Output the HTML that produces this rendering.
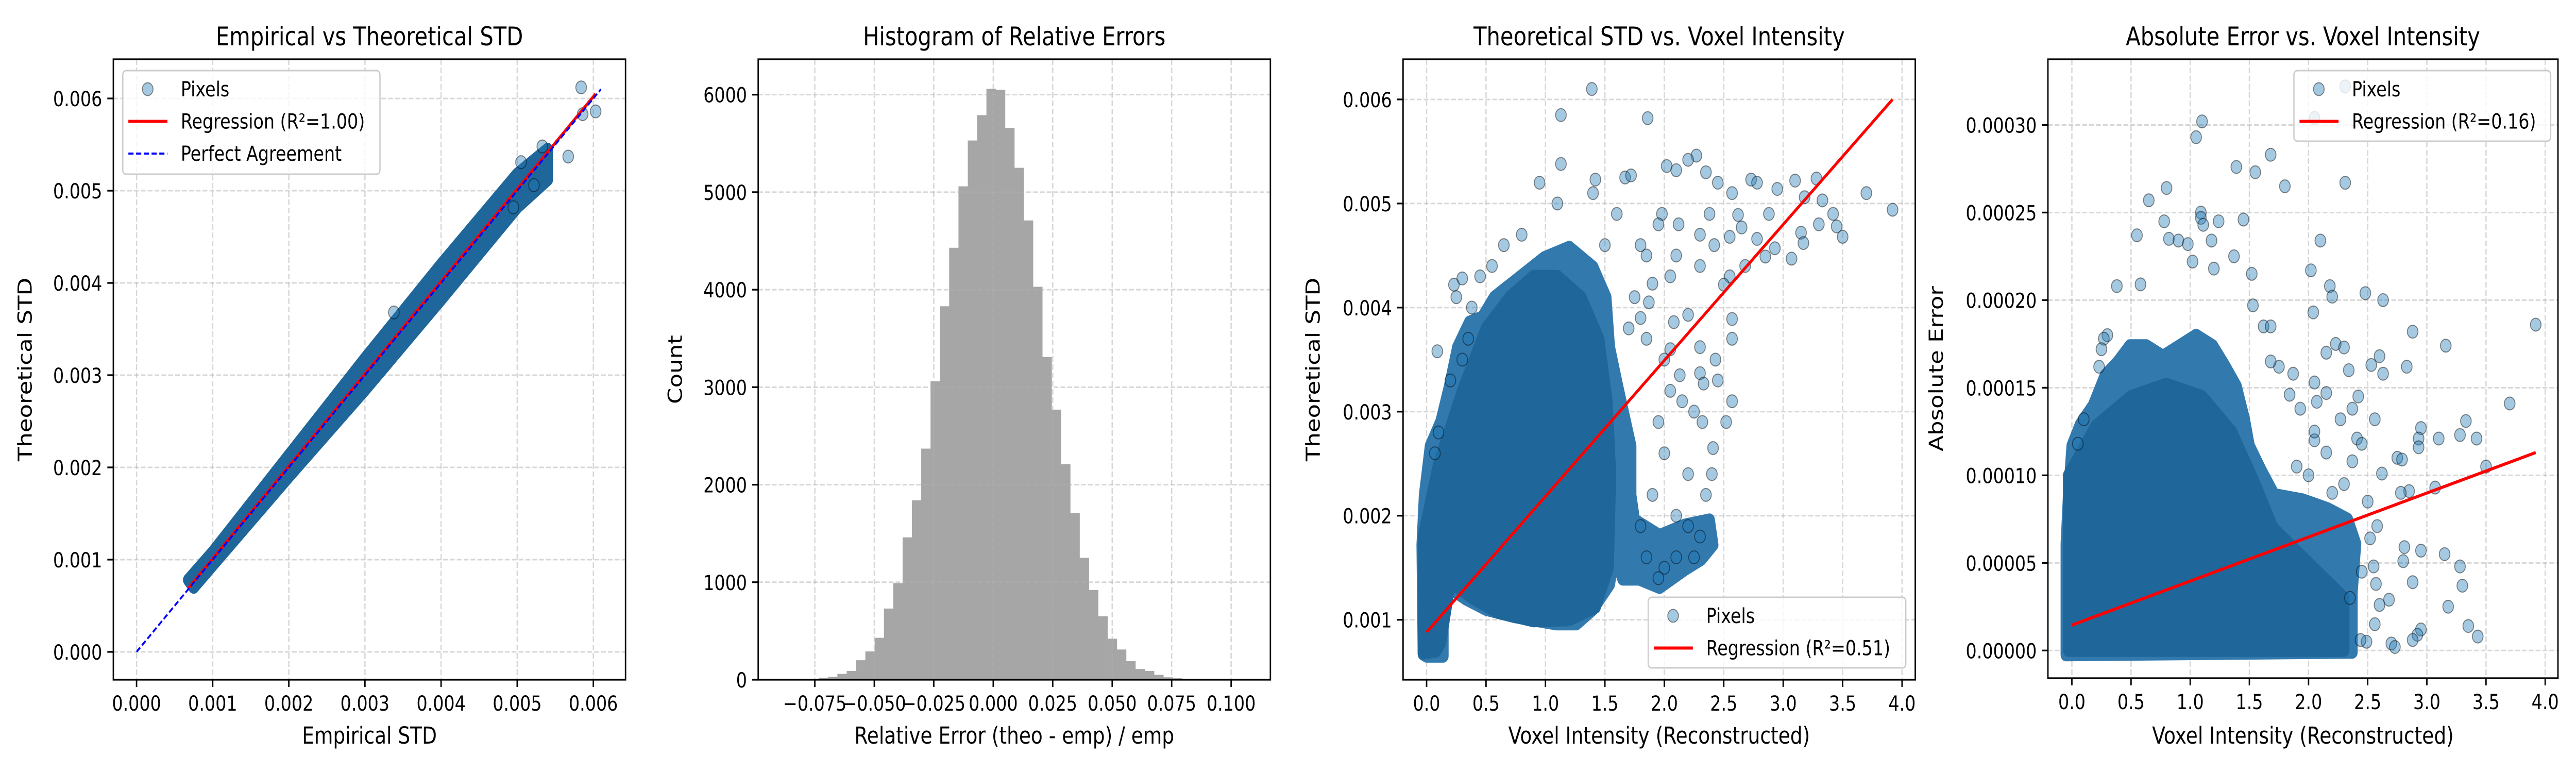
<!DOCTYPE html>
<html><head><meta charset="utf-8">
<style>
html,body{margin:0;padding:0;background:#fff;overflow:hidden;width:100%;height:100%;}
svg{display:block;width:100vw;height:100vh;font-family:"DejaVu Sans","Liberation Sans",sans-serif;}
</style></head>
<body>
<svg id="fig" viewBox="0 0 6000 1500" preserveAspectRatio="none" xmlns="http://www.w3.org/2000/svg"></svg>
<script>
// ---------- Panel 1 data ----------
const p1BandUpper = [[0.00068,0.00078],[0.001,0.00108],[0.002,0.00213],[0.003,0.00318],[0.004,0.00420],[0.005,0.00518],[0.0054,0.00545]];
const p1BandLower = [[0.0054,0.00512],[0.005,0.00482],[0.004,0.00382],[0.003,0.00284],[0.002,0.00190],[0.001,0.00094],[0.00075,0.00070]];
const p1OutX = [0.00584,0.00603,0.00567,0.00586,0.00505,0.00338,0.00533,0.00522,0.00495];
const p1OutY = [0.00612,0.00586,0.00537,0.00583,0.00531,0.00368,0.00548,0.00506,0.00482];
const p1Reg = [[0.00068,0.00069],[0.00603,0.00605]];
const p1Perfect = [[0,0],[0.0061,0.0061]];
const p1Ticks = [0,0.001,0.002,0.003,0.004,0.005,0.006];
const p1TickLabels = ["0.000","0.001","0.002","0.003","0.004","0.005","0.006"];

// ---------- Panel 2 data ----------
const histStart = -0.089;
const histWidth = 0.003915;
const histCounts = [1,2,3,10,20,30,60,90,200,290,430,730,990,1460,1840,2370,3060,3830,4430,5060,5530,5790,6060,6050,5660,5250,4710,4030,3310,2770,2210,1710,1250,920,650,420,310,190,110,90,50,25,15,8,3,2,2,1,1,1];
const p2XTicks = [-0.075,-0.05,-0.025,0,0.025,0.05,0.075,0.1];
const p2XLabels = ["\u22120.075","\u22120.050","\u22120.025","0.000","0.025","0.050","0.075","0.100"];
const p2YTicks = [0,1000,2000,3000,4000,5000,6000];
const p2YLabels = ["0","1000","2000","3000","4000","5000","6000"];

// ---------- Panel 3 data ----------
const p3Outer = [[-0.03,0.00067],[-0.04,0.00172],[-0.02,0.0022],[0.03,0.00267],[0.12,0.00291],[0.19,0.00324],[0.26,0.00362],[0.36,0.00386],[0.47,0.00391],[0.57,0.0041],[0.78,0.00429],[0.99,0.00448],[1.2,0.00458],[1.4,0.00439],[1.51,0.0041],[1.54,0.00362],[1.61,0.00324],[1.72,0.00267],[1.72,0.0022],[1.75,0.00196],[1.96,0.00181],[2.17,0.00191],[2.38,0.00196],[2.41,0.00172],[2.31,0.00158],[2.17,0.00148],[1.96,0.00131],[1.79,0.00139],[1.65,0.00139],[1.58,0.00162],[1.54,0.00134],[1.4,0.0011],[1.26,0.00096],[1.09,0.00096],[0.74,0.00103],[0.5,0.0011],[0.33,0.0012],[0.19,0.00131],[0.14,0.00105],[0.14,0.00065],[0.0,0.00065]];
const p3Core = [[-0.03,0.00068],[-0.03,0.0018],[0.1,0.0025],[0.3,0.0032],[0.5,0.0038],[0.7,0.0041],[0.9,0.0043],[1.1,0.0043],[1.3,0.0041],[1.45,0.0037],[1.52,0.0031],[1.55,0.0024],[1.53,0.0015],[1.42,0.00112],[1.2,0.001],[0.9,0.00099],[0.6,0.00107],[0.4,0.0012],[0.2,0.00136],[0.12,0.00078],[0.08,0.0007]];
const p3OutX = [1.39,1.13,1.86,1.13,2.27,2.2,2.02,2.1,0.95,1.42,1.67,1.72,2.35,2.45,2.57,2.73,2.78,3.1,3.28,3.7,3.92,3.33,3.18,2.95,2.88,2.62,3.42,3.45,3.5,3.3,3.15,3.17,3.07,2.85,2.93,2.78,2.55,2.65,2.42,2.3,2.55,2.5,2.68,2.1,2.05,1.98,2.12,2.38,0.3,0.23,0.25,0.09,0.38,0.45,0.55,1.9,1.87,1.8,2.08,2.2,2.57,2.57,2.13,2.3,2.43,2.33,2.45,2.57,2.52,2.41,2.4,2.3,2.05,2.0,1.85,1.7,1.75,1.4,1.1,0.8,0.65,1.5,1.6,1.8,1.85,1.95,2.3,0.35,0.3,0.2,0.1,0.07,2.25,2.32,2.15,2.05,1.95,2.0,2.2,2.35,2.3,2.25,2.1,2.0,1.95,1.85,1.8,1.9,2.1,2.2];
const p3OutY = [0.0061,0.00585,0.00582,0.00538,0.00546,0.00542,0.00536,0.00532,0.0052,0.00523,0.00525,0.00527,0.0053,0.0052,0.0051,0.00523,0.0052,0.00522,0.00524,0.0051,0.00494,0.00503,0.00506,0.00514,0.0049,0.00489,0.0049,0.00478,0.00468,0.0048,0.00472,0.00462,0.00447,0.00449,0.00457,0.00466,0.00468,0.00477,0.0046,0.0047,0.0043,0.00422,0.0044,0.0045,0.0043,0.0049,0.0048,0.0049,0.00428,0.00422,0.0041,0.00358,0.004,0.0043,0.0044,0.00423,0.00405,0.0039,0.00386,0.00393,0.00389,0.0037,0.00335,0.00337,0.0035,0.00327,0.0033,0.0031,0.0029,0.00265,0.0024,0.00362,0.0036,0.0035,0.0037,0.0038,0.0041,0.0051,0.005,0.0047,0.0046,0.0046,0.0049,0.0046,0.0045,0.0048,0.0044,0.0037,0.0035,0.0033,0.0028,0.0026,0.003,0.0029,0.0031,0.0032,0.0029,0.0026,0.0024,0.0022,0.0018,0.0016,0.0016,0.0015,0.0014,0.0016,0.0019,0.0022,0.002,0.0019];
const p3Reg = [[0,0.00088],[3.92,0.006]];
const p3XTicks = [0,0.5,1,1.5,2,2.5,3,3.5,4];
const p3XLabels = ["0.0","0.5","1.0","1.5","2.0","2.5","3.0","3.5","4.0"];
const p3YTicks = [0.001,0.002,0.003,0.004,0.005,0.006];
const p3YLabels = ["0.001","0.002","0.003","0.004","0.005","0.006"];

// ---------- Panel 4 data ----------
const p4Outer = [[-0.05,-0.0000025],[-0.05,0.000061],[-0.03,0.000089],[0,0.000117],[0.07,0.000129],[0.18,0.00014],[0.28,0.000157],[0.39,0.000165],[0.49,0.000174],[0.63,0.000174],[0.77,0.000168],[0.91,0.000174],[1.05,0.00018],[1.19,0.000174],[1.29,0.000163],[1.39,0.000151],[1.46,0.000132],[1.5,0.000117],[1.6,0.000103],[1.71,0.000089],[1.95,0.000086],[2.16,0.000081],[2.33,0.000075],[2.4,0.000061],[2.37,0.000033],[2.37,-0.000001]];
const p4Core = [[-0.03,0],[-0.03,0.0001],[0.2,0.000128],[0.5,0.000145],[0.8,0.000152],[1.1,0.000145],[1.35,0.000125],[1.55,0.000095],[1.7,0.00007],[2.0,0.00005],[2.3,0.00003],[2.3,0]];
const p4OutX = [1.1,1.05,1.68,1.39,1.55,2.31,1.8,0.8,0.65,1.09,1.09,1.11,1.24,1.45,0.78,0.55,0.82,0.9,0.98,1.18,2.1,1.37,1.02,1.2,2.02,1.52,0.58,0.38,2.18,2.2,2.48,2.63,1.53,2.04,1.62,1.68,2.88,3.92,3.16,2.23,2.3,2.15,2.6,2.53,2.83,2.63,2.34,1.87,1.75,1.68,2.05,2.15,2.42,2.07,1.84,1.93,2.37,3.7,3.33,2.56,2.27,2.95,3.28,3.1,3.42,2.93,2.93,2.41,2.45,2.05,2.15,2.37,2.75,2.79,3.5,2.62,3.07,2.85,2.78,2.5,2.58,2.52,3.15,2.95,2.81,2.8,3.28,2.55,2.57,2.88,3.3,2.68,2.6,3.18,2.56,2.95,2.92,2.88,3.35,3.43,2.7,2.73,2.49,2.44,2.35,2.45,2.2,2.0,1.9,2.3,2.05,0.3,0.27,0.23,0.25,0.05,0.1,2.31,2.05];
const p4OutY = [0.000302,0.000293,0.000283,0.000276,0.000273,0.000267,0.000265,0.000264,0.000257,0.00025,0.000247,0.000243,0.000245,0.000246,0.000245,0.000237,0.000235,0.000234,0.000232,0.000234,0.000234,0.000225,0.000222,0.000218,0.000217,0.000215,0.000209,0.000208,0.000208,0.000202,0.000204,0.0002,0.000197,0.000193,0.000185,0.000185,0.000182,0.000186,0.000174,0.000175,0.000173,0.00017,0.000168,0.000163,0.000162,0.000158,0.00016,0.000158,0.000162,0.000165,0.000153,0.000147,0.000145,0.000142,0.000146,0.000138,0.000138,0.000141,0.000131,0.000132,0.000132,0.000127,0.000123,0.000121,0.000121,0.000121,0.000116,0.000121,0.000118,0.00012,0.000113,0.000108,0.00011,0.000109,0.000105,0.000101,0.000093,0.000091,0.00009,0.000085,0.000071,0.000064,0.000055,0.000057,0.000059,0.000051,0.000048,0.000048,0.000038,0.000039,0.000037,0.000029,0.000026,0.000025,0.000015,0.000012,0.000009,0.000006,0.000014,0.000008,0.000004,0.000002,0.000005,0.000006,0.00003,0.000045,0.00009,0.0001,0.000105,0.000095,0.000125,0.00018,0.000178,0.000162,0.000172,0.000118,0.000132,0.000322,0.000304];
const p4Reg = [[0,0.0000145],[3.92,0.000113]];
const p4XTicks = [0,0.5,1,1.5,2,2.5,3,3.5,4];
const p4XLabels = ["0.0","0.5","1.0","1.5","2.0","2.5","3.0","3.5","4.0"];
const p4YTicks = [0,0.00005,0.0001,0.00015,0.0002,0.00025,0.0003];
const p4YLabels = ["0.00000","0.00005","0.00010","0.00015","0.00020","0.00025","0.00030"];

// ---------- helpers ----------
const NS = "http://www.w3.org/2000/svg";
const fig = document.getElementById('fig');
const MR = 12.5;
function mk(tag, parent, attrs){
  const e = document.createElementNS(NS, tag);
  for (const k in attrs) e.setAttribute(k, attrs[k]);
  parent.appendChild(e);
  return e;
}
function makeAxes(box, xr, yr){
  const sx = v => box.x0 + (v - xr[0]) / (xr[1] - xr[0]) * (box.x1 - box.x0);
  const sy = v => box.y1 - (v - yr[0]) / (yr[1] - yr[0]) * (box.y1 - box.y0);
  return {sx, sy};
}
function drawFrame(g, box, ax, xt, xl, yt, yl){
  const grid = mk('g', g, {});
  
  
  xt.forEach(v => { mk('line', grid, {x1:ax.sx(v), x2:ax.sx(v), y1:box.y0, y2:box.y1, stroke:'#b0b0b0', 'stroke-opacity':0.5, 'stroke-width':3, 'stroke-dasharray':'11 5'}); });
  yt.forEach(v => { mk('line', grid, {x1:box.x0, x2:box.x1, y1:ax.sy(v), y2:ax.sy(v), stroke:'#b0b0b0', 'stroke-opacity':0.5, 'stroke-width':3, 'stroke-dasharray':'11 5'}); });
  return grid;
}
function drawAxesDecor(g, box, ax, xt, xl, yt, yl, title, xlabel, ylabel, ylabX){
  const fr = mk('rect', g, {x:box.x0, y:box.y0, width:box.x1-box.x0, height:box.y1-box.y0, fill:'none', stroke:'#000', 'stroke-width':3.3});
  
  
  const xg = mk('g', g, {});
  
  
  xt.forEach((v,i) => {
    mk('line', xg, {x1:ax.sx(v), x2:ax.sx(v), y1:box.y1, y2:box.y1+14, stroke:'#000', 'stroke-width':3.3});
    const t = mk('text', xg, {x:ax.sx(v), y:box.y1+60, 'text-anchor':'middle', 'font-size':40, fill:'#000'});
    t.textContent = xl[i];
    
    
  });
  const yg = mk('g', g, {});
  
  
  yt.forEach((v,i) => {
    mk('line', yg, {x1:box.x0-14, x2:box.x0, y1:ax.sy(v), y2:ax.sy(v), stroke:'#000', 'stroke-width':3.3});
    const t = mk('text', yg, {x:box.x0-26, y:ax.sy(v)+15, 'text-anchor':'end', 'font-size':40, fill:'#000'});
    t.textContent = yl[i];
    
    
  });
  const tt = mk('text', g, {x:(box.x0+box.x1)/2, y:88, 'text-anchor':'middle', 'font-size':50, fill:'#000'});
  tt.textContent = title;
  
  
  const xlb = mk('text', g, {x:(box.x0+box.x1)/2, y:1443, 'text-anchor':'middle', 'font-size':45, fill:'#000'});
  xlb.textContent = xlabel;
  
  
  const cy = (box.y0+box.y1)/2;
  const ylb = mk('text', g, {x:ylabX, y:cy, 'text-anchor':'middle', 'font-size':45, fill:'#000', transform:`rotate(-90 ${ylabX} ${cy})`});
  ylb.textContent = ylabel;
  
  
}
function drawCloud(g, ax, pts, color, name){
  const d = pts.map(p => ax.sx(p[0]).toFixed(1)+','+ax.sy(p[1]).toFixed(1)).join(' ');
  const pg = mk('polygon', g, {points:d, fill:color, stroke:color, 'stroke-width':2*MR, 'stroke-linejoin':'round'});
  
  
}
function drawPoints(g, ax, xs, ys){
  xs.forEach((x,i) => {
    const c = mk('circle', g, {cx:ax.sx(x), cy:ax.sy(ys[i]), r:MR, fill:'#1f77b4', 'fill-opacity':0.4, stroke:'#000', 'stroke-opacity':0.45, 'stroke-width':2});
    
    
  });
}
function drawLine(g, ax, pts, color, w, dash, name){
  const a = {x1:ax.sx(pts[0][0]), y1:ax.sy(pts[0][1]), x2:ax.sx(pts[1][0]), y2:ax.sy(pts[1][1]), stroke:color, 'stroke-width':w};
  if (dash) a['stroke-dasharray'] = dash;
  const l = mk('line', g, a);
  
  
}
function drawLegend(g, x, y, w, h, items){
  const lg = mk('g', g, {});
  
  
  mk('rect', lg, {x:x, y:y, width:w, height:h, rx:8, fill:'#fff', 'fill-opacity':0.8, stroke:'#ccc', 'stroke-width':3});
  items.forEach((it,i) => {
    const ry = y + 36 + i*62.5;
    const eg = mk('g', lg, {});
    
    
    if (it.type === 'pt') {
      mk('circle', eg, {cx:x+58, cy:ry, r:MR, fill:'#1f77b4', 'fill-opacity':0.4, stroke:'#000', 'stroke-opacity':0.45, 'stroke-width':2});
    } else {
      const a = {x1:x+13, x2:x+104, y1:ry, y2:ry, stroke:it.color, 'stroke-width':it.w};
      if (it.dash) a['stroke-dasharray'] = it.dash;
      mk('line', eg, a);
    }
    const t = mk('text', eg, {x:x+135, y:ry+14, 'font-size':40, fill:'#000'});
    t.textContent = it.label;
  });
}

// ---------- Panel 1 ----------
(function(){
  const box = {x0:264, x1:1457, y0:115, y1:1319};
  const ax = makeAxes(box, [-0.000305, 0.006423], [-0.000302, 0.006425]);
  const g = mk('g', fig, {});
  
  
  drawFrame(g, box, ax, p1Ticks, p1TickLabels, p1Ticks, p1TickLabels);
  drawCloud(g, ax, p1BandUpper.concat(p1BandLower), '#1f679a', 'pixel-band');
  drawPoints(g, ax, p1OutX, p1OutY);
  drawLine(g, ax, p1Reg, '#ff0000', 6, null, 'regression-line');
  drawLine(g, ax, p1Perfect, '#0000ff', 4, '12 6', 'perfect-agreement-line');
  drawAxesDecor(g, box, ax, p1Ticks, p1TickLabels, p1Ticks, p1TickLabels, 'Empirical vs Theoretical STD', 'Empirical STD', 'Theoretical STD', 74);
  drawLegend(g, 286, 137, 599, 201, [
    {type:'pt', label:'Pixels'},
    {type:'line', color:'#ff0000', w:6, label:'Regression (R\u00b2=1.00)'},
    {type:'line', color:'#0000ff', w:4, dash:'12 6', label:'Perfect Agreement'}]);
})();

// ---------- Panel 2 ----------
(function(){
  const box = {x0:1766, x1:2959, y0:115, y1:1319};
  const ax = makeAxes(box, [-0.0988, 0.1165], [0, 6363]);
  const g = mk('g', fig, {});
  
  
  const bars = mk('g', g, {});
  
  
  histCounts.forEach((c,i) => {
    const l = histStart + i*histWidth;
    const xa = ax.sx(l), xb = ax.sx(l+histWidth);
    const b = mk('rect', bars, {x:xa, y:ax.sy(c), width:xb-xa+0.5, height:ax.sy(0)-ax.sy(c), fill:'#a6a6a6'});
    
    
  });
  drawFrame(g, box, ax, p2XTicks, p2XLabels, p2YTicks, p2YLabels);
  drawAxesDecor(g, box, ax, p2XTicks, p2XLabels, p2YTicks, p2YLabels, 'Histogram of Relative Errors', 'Relative Error (theo - emp) / emp', 'Count', 1588);
})();

// ---------- Panel 3 ----------
(function(){
  const box = {x0:3268, x1:4461, y0:115, y1:1319};
  const ax = makeAxes(box, [-0.198, 4.111], [0.000424, 0.006386]);
  const g = mk('g', fig, {});
  
  
  drawFrame(g, box, ax, p3XTicks, p3XLabels, p3YTicks, p3YLabels);
  drawCloud(g, ax, p3Outer, '#3279ae', 'pixel-cloud-outer');
  drawCloud(g, ax, p3Core, '#1f679a', 'pixel-cloud-core');
  drawPoints(g, ax, p3OutX, p3OutY);
  drawLine(g, ax, p3Reg, '#ff0000', 6, null, 'regression-line');
  drawAxesDecor(g, box, ax, p3XTicks, p3XLabels, p3YTicks, p3YLabels, 'Theoretical STD vs. Voxel Intensity', 'Voxel Intensity (Reconstructed)', 'Theoretical STD', 3074);
  drawLegend(g, 3839, 1159, 600, 137, [
    {type:'pt', label:'Pixels'},
    {type:'line', color:'#ff0000', w:6, label:'Regression (R\u00b2=0.51)'}]);
})();

// ---------- Panel 4 ----------
(function(){
  const box = {x0:4770, x1:5958, y0:115, y1:1316};
  const ax = makeAxes(box, [-0.2025, 4.108], [-0.0000158, 0.0003375]);
  const g = mk('g', fig, {});
  
  
  drawFrame(g, box, ax, p4XTicks, p4XLabels, p4YTicks, p4YLabels);
  drawCloud(g, ax, p4Outer, '#3279ae', 'pixel-cloud-outer');
  drawCloud(g, ax, p4Core, '#1f679a', 'pixel-cloud-core');
  drawPoints(g, ax, p4OutX, p4OutY);
  drawLine(g, ax, p4Reg, '#ff0000', 6, null, 'regression-line');
  drawAxesDecor(g, box, ax, p4XTicks, p4XLabels, p4YTicks, p4YLabels, 'Absolute Error vs. Voxel Intensity', 'Voxel Intensity (Reconstructed)', 'Absolute Error', 4525);
  drawLegend(g, 5343, 137, 598, 137, [
    {type:'pt', label:'Pixels'},
    {type:'line', color:'#ff0000', w:6, label:'Regression (R\u00b2=0.16)'}]);
})();
</script>
</body></html>
